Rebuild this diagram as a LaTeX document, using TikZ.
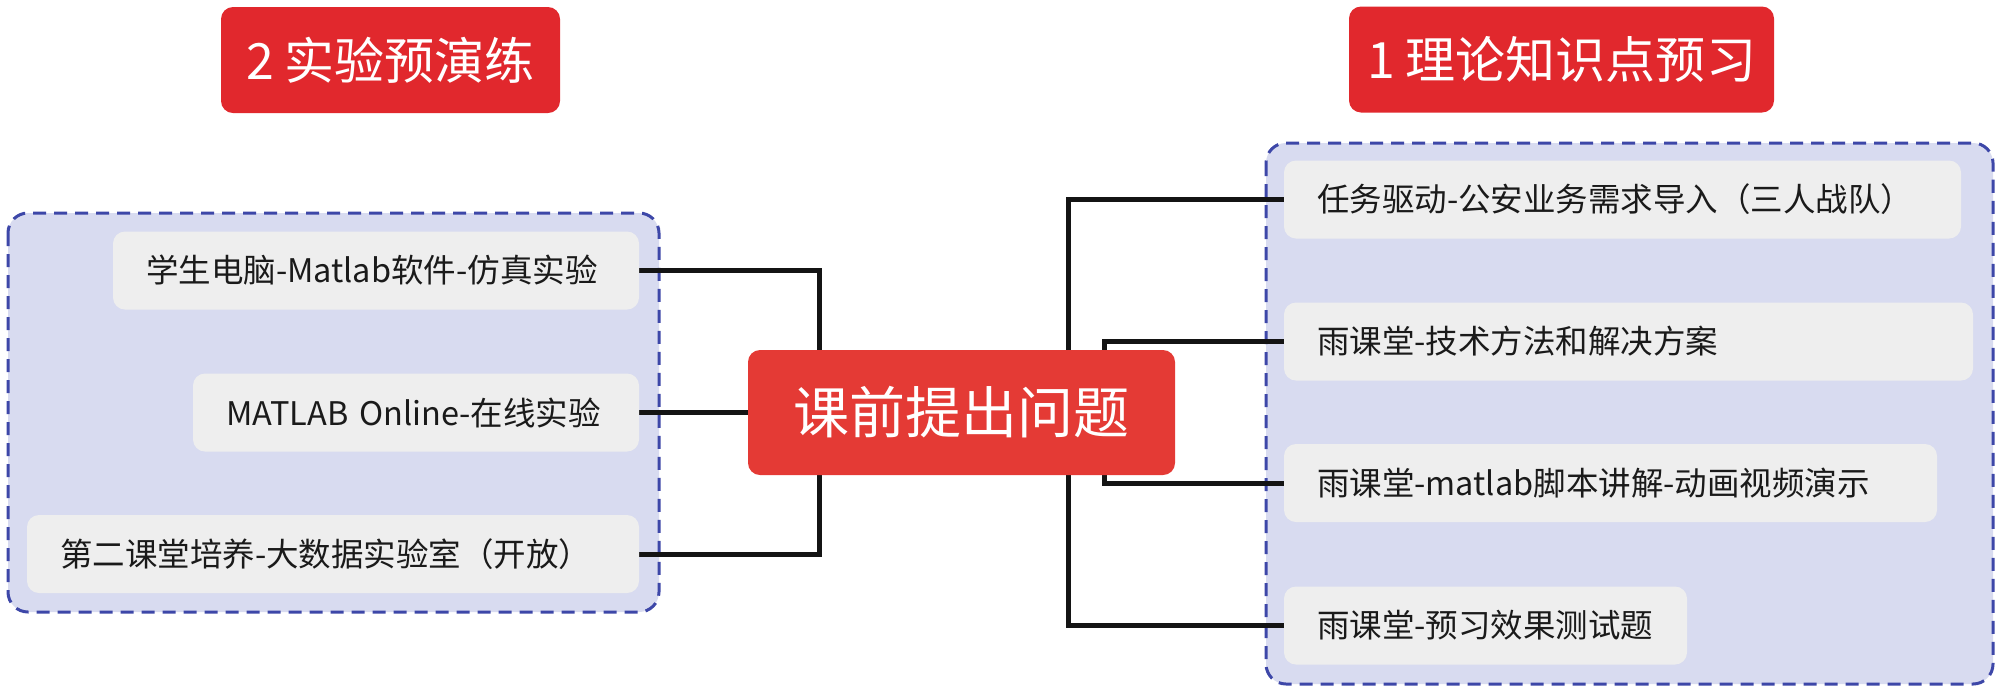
\documentclass[tikz,border=0pt]{standalone}
\usepackage{fontspec}
\setmainfont{Noto Sans CJK SC}
\definecolor{titlered}{HTML}{E1282D}
\definecolor{centerred}{HTML}{E43A35}
\definecolor{boxfill}{HTML}{D8DBF0}
\definecolor{boxline}{HTML}{3D47A8}
\definecolor{itemgray}{HTML}{EEEEEE}
\definecolor{txt}{HTML}{1A1A1A}
\definecolor{linec}{HTML}{141414}
\pgfdeclarelayer{backlayer}
\pgfdeclarelayer{midlayer}
\pgfsetlayers{backlayer,midlayer,main}
\begin{document}
\begin{tikzpicture}[x=0.5pt,y=-0.5pt,
  item/.style={fill=itemgray,rounded corners=6pt,minimum height=39pt,inner xsep=16.5pt,inner ysep=0pt,align=left,font=\fontsize{16.25pt}{19pt}\selectfont,text=txt},
  titlebox/.style={fill=titlered,rounded corners=6pt,text=white,font=\fontsize{25pt}{30pt}\selectfont,minimum height=53pt,inner sep=0pt},
  groupbox/.style={fill=boxfill,draw=boxline,line width=1.5pt,dash pattern=on 6.5pt off 4pt,rounded corners=10pt},
  conn/.style={draw=linec,line width=2.5pt}]
\useasboundingbox (0,0) rectangle (2000,692);
% titles
\node[titlebox,minimum width=169.5pt] (T2) at (390.5,60) {2 实验预演练};
\node[titlebox,minimum width=212.5pt] (T1) at (1561.5,59.5) {1 理论知识点预习};
% items
\node[item,text width=230pt] (L1) at (376,270.5) {学生电脑-Matlab软件-仿真实验};
\node[item,text width=190pt] (L2) at (416,412.5) {MATLAB Online-在线实验};
\node[item,text width=273pt] (L3) at (333,554) {第二课堂培养-大数据实验室（开放）};
\node[item,text width=305.5pt] (R1) at (1622.5,199.5) {任务驱动-公安业务需求导入（三人战队）};
\node[item,text width=311.5pt] (R2) at (1628.5,341.5) {雨课堂-技术方法和解决方案};
\node[item,text width=293.5pt] (R3) at (1610.5,483) {雨课堂-matlab脚本讲解-动画视频演示};
\node[item,text width=168.5pt] (R4) at (1485.5,625.5) {雨课堂-预习效果测试题};
% center node
\node[fill=centerred,rounded corners=6pt,minimum width=213.5pt,minimum height=62.5pt,inner sep=0pt,text=white,font=\fontsize{28pt}{32pt}\selectfont] (C) at (961.5,412.5) {课前提出问题};
% bracket coordinates
\coordinate (lb) at (819,412.5);
\coordinate (rbo) at (1068,412.5);
\coordinate (rbi) at (1104,412.5);
% group containers
\begin{pgfonlayer}{backlayer}
\draw[groupbox] (8,213) rectangle (659,612);
\draw[groupbox] (1266,143) rectangle (1993,684);
\end{pgfonlayer}
% connectors
\begin{pgfonlayer}{midlayer}
\draw[conn] (L1.east) -| (lb);
\draw[conn] (L3.east) -| (lb);
\draw[conn] (L2.east) -- (C.west);
\draw[conn] (R1.west) -| (rbo);
\draw[conn] (R4.west) -| (rbo);
\draw[conn] (R2.west) -| (rbi);
\draw[conn] (R3.west) -| (rbi);
\end{pgfonlayer}
\end{tikzpicture}
\end{document}
